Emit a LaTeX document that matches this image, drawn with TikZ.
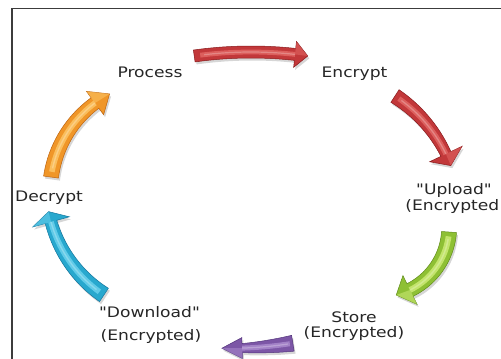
\documentclass[tikz,border=0pt]{standalone}
\usepackage{fontspec}
\newfontfamily\lblfont[FakeStretch=1.18]{DejaVu Sans}

\definecolor{redbase}{RGB}{194,56,58}
\definecolor{redlight}{RGB}{232,112,108}
\definecolor{reddark}{RGB}{136,26,28}
\definecolor{greenbase}{RGB}{142,192,52}
\definecolor{greenlight}{RGB}{218,244,132}
\definecolor{greendark}{RGB}{96,140,26}
\definecolor{purplebase}{RGB}{124,86,166}
\definecolor{purplelight}{RGB}{180,150,214}
\definecolor{purpledark}{RGB}{84,54,124}
\definecolor{cyanbase}{RGB}{40,168,206}
\definecolor{cyanlight}{RGB}{122,218,244}
\definecolor{cyandark}{RGB}{20,118,158}
\definecolor{orangebase}{RGB}{240,150,40}
\definecolor{orangelight}{RGB}{255,208,116}
\definecolor{orangedark}{RGB}{190,100,16}
\definecolor{framegray}{RGB}{60,60,60}

% Outline of a curved block arrow around the origin:
% #1 radius, #2 tail angle, #3 head-base angle, #4 tip angle,
% #5 half-width at the tail, #6 half-width at the head, #7 half-width of the head
\newcommand{\arrowshape}[7]{%
  plot[domain=#2:#3, samples=40, variable=\t]
    ({(#1+#5+(#6-#5)*(\t-(#2))/((#3)-(#2)))*cos(\t)},
     {(#1+#5+(#6-#5)*(\t-(#2))/((#3)-(#2)))*sin(\t)})
  -- (#3:{#1+#7}) -- (#4:#1) -- (#3:{#1-#7})
  -- plot[domain=#3:#2, samples=40, variable=\t]
    ({(#1-#5-(#6-#5)*(\t-(#2))/((#3)-(#2)))*cos(\t)},
     {(#1-#5-(#6-#5)*(\t-(#2))/((#3)-(#2)))*sin(\t)})
  -- cycle}

% Shaded curved arrow: #1 centre, #2..#8 as above, #9 colour prefix
\newcommand{\cyclearrow}[9]{%
  \begin{scope}[shift={#1}]
    \fill[black, opacity=0.16, shift={(1.5,-2.5)}] \arrowshape{#2}{#3}{#4}{#5}{#6}{#7}{#8};
    \fill[#9base, draw=#9dark, line width=0.5] \arrowshape{#2}{#3}{#4}{#5}{#6}{#7}{#8};
    \draw[#9light, line width={(#6+#7)*0.4}, opacity=0.7]
      plot[domain={#3+0.06*((#4)-(#3))}:{#4}, samples=40, variable=\t]
      ({#2*cos(\t)}, {#2*sin(\t)});
    \draw[white, line width={(#6+#7)*0.1}, opacity=0.25]
      plot[domain={#3+0.1*((#4)-(#3))}:{#4}, samples=40, variable=\t]
      ({#2*cos(\t)}, {#2*sin(\t)});
    \fill[#9light, opacity=0.45] (#4:#2) -- (#4:{#2+#8}) -- (#5:#2) -- cycle;
  \end{scope}}

\tikzset{
  lbl/.style={font=\lblfont\fontsize{14.5}{17}\selectfont, text=black!85,
              inner sep=0pt, anchor=base},
  frameline/.style={draw=framegray, line width=1.8}
}

\begin{document}
\begin{tikzpicture}[x=1pt, y=1pt]
  \useasboundingbox (0,0) rectangle (501,-359);
  \clip (0,0) rectangle (501,-359);

  % frame
  \coordinate (fbl) at (12,-360);
  \coordinate (ftl) at (12,-8.5);
  \coordinate (ftr) at (502,-8.5);
  \draw[frameline] (fbl) -- (ftl) -- (ftr);

  % arrows of the cycle
  \cyclearrow{(251,-460)}{408}{98.0}{83.8}{82.0}{6}{6}{13}{red}
  \cyclearrow{(318,-215)}{141.7}{57.1}{25.5}{20.4}{7.5}{5.5}{18}{red}
  \cyclearrow{(379,-227)}{70.2}{-4.1}{-63.8}{-75.8}{7.5}{7}{16}{green}
  \cyclearrow{(229.6,51.7)}{400}{-80.9}{-88.2}{-91.1}{8}{4.5}{10.5}{purple}
  \cyclearrow{(175.4,-187.4)}{129.1}{236.4}{195.5}{190.8}{8}{6}{19}{cyan}
  \cyclearrow{(160.7,-192.1)}{110.7}{172.2}{126.4}{117.5}{7.5}{6.5}{14.5}{orange}

  % labels
  \node[lbl] (process)  at (150,-77)   {Process};
  \node[lbl] (encrypt)  at (354.5,-77) {Encrypt};
  \node[lbl] (upload)   at (454,-194)  {"Upload"};
  \node[lbl, anchor=base east] (upenc) at (499.5,-210) {(Encrypted};
  \node[lbl] (store)    at (354,-322)  {Store};
  \node[lbl] (stenc)    at (354,-337)  {(Encrypted)};
  \node[lbl] (download) at (149.5,-317) {"Download"};
  \node[lbl] (dlenc)    at (151,-340)  {(Encrypted)};
  \node[lbl] (decrypt)  at (49,-201)   {Decrypt};
\end{tikzpicture}
\end{document}
